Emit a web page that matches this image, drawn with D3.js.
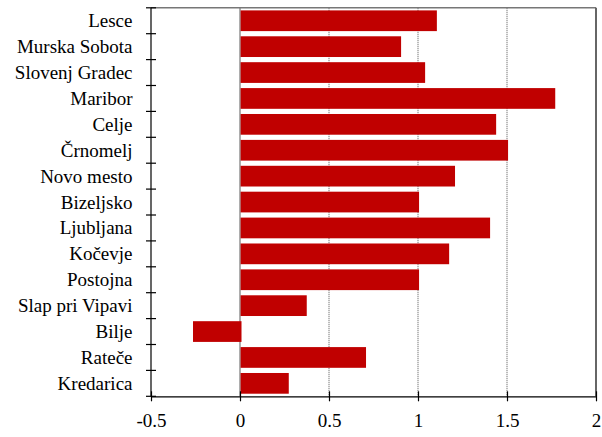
<!DOCTYPE html>
<html><head><meta charset="utf-8">
<script src="https://cdn.jsdelivr.net/npm/d3@7"></script>
</head><body style="margin:0;background:#fff">
<svg id="chart" width="602" height="437" font-family="Times New Roman" style="display:block"></svg>
<script>
const categories = ["Lesce","Murska Sobota","Slovenj Gradec","Maribor","Celje","Črnomelj","Novo mesto","Bizeljsko","Ljubljana","Kočevje","Postojna","Slap pri Vipavi","Bilje","Rateče","Kredarica"];
const values = [1.106,0.905,1.04,1.771,1.439,1.506,1.208,1.006,1.405,1.175,1.006,0.375,-0.264,0.708,0.274];
const xTicks = [-0.5,0,0.5,1,1.5,2];
const xTickLabels = ["-0.5","0","0.5","1","1.5","2"];

const W=602,H=437;
const FONT="Times New Roman";
const m={left:151,right:6,top:7.8,bottom:40.7};
const svg=d3.select("#chart");
const x=d3.scaleLinear().domain([-0.5,2]).range([m.left,W-m.right]);
const y=d3.scaleBand().domain(categories).range([m.top,H-m.bottom]).paddingInner(0.2).paddingOuter(0.1);

svg.append("g").selectAll("line").data(xTicks.filter(t=>t>0&&t<2)).join("line")
  .attr("x1",d=>x(d)).attr("x2",d=>x(d)).attr("y1",m.top).attr("y2",H-m.bottom)
  .attr("stroke","#555").attr("stroke-width",1).attr("stroke-dasharray","1,1");

svg.append("line").attr("x1",m.left).attr("x2",x(2)).attr("y1",m.top).attr("y2",m.top)
  .attr("stroke","#777").attr("stroke-width",1.5);
svg.append("line").attr("x1",x(2)).attr("x2",x(2)).attr("y1",m.top).attr("y2",H-m.bottom)
  .attr("stroke","#666").attr("stroke-width",2);

svg.append("line").attr("x1",x(0)).attr("x2",x(0)).attr("y1",m.top).attr("y2",H-m.bottom)
  .attr("stroke","#777").attr("stroke-width",1.2);

svg.append("g").selectAll("rect").data(categories).join("rect")
  .attr("x",(d,i)=>x(Math.min(0,values[i]))+ (values[i]>=0?0.6:0))
  .attr("width",(d,i)=>Math.abs(x(values[i])-x(0))+(values[i]>=0?-0.6:1.5))
  .attr("y",d=>y(d)).attr("height",y.bandwidth())
  .attr("fill","#C00000");

const xa=svg.append("g").attr("transform",`translate(0,${H-m.bottom})`)
  .call(d3.axisBottom(x).tickValues(xTicks).tickFormat((d,i)=>xTickLabels[i]).tickSize(5).tickSizeOuter(0));
xa.attr("font-family",FONT).attr("font-size",19);
xa.select(".domain").attr("stroke","#000").attr("stroke-width",1.2);
xa.selectAll(".tick line").attr("y1",-5).attr("y2",5).attr("stroke","#000").attr("stroke-width",1.2);
xa.selectAll(".tick text").attr("font-family",FONT).attr("font-size",19).attr("fill","#000").attr("y",null).attr("dy",null)
  .attr("transform","translate(0,31)");

const bounds=d3.range(categories.length+1).map(i=>m.top+i*(H-m.bottom-m.top)/categories.length);
svg.append("line").attr("x1",m.left).attr("x2",m.left).attr("y1",m.top).attr("y2",H-m.bottom)
  .attr("stroke","#000").attr("stroke-width",1.2);
svg.append("g").selectAll("line").data(bounds).join("line")
  .attr("x1",m.left-5).attr("x2",m.left+5).attr("y1",d=>d).attr("y2",d=>d)
  .attr("stroke","#000").attr("stroke-width",1.2);
categories.forEach((c,i)=>{
  svg.append("text").attr("x",132.5).attr("y",y(c)+y.bandwidth()/2+6.5)
    .attr("text-anchor","end").attr("font-family",FONT).attr("font-size",19).attr("fill","#000")
    .text(c);
});
</script></body></html>
